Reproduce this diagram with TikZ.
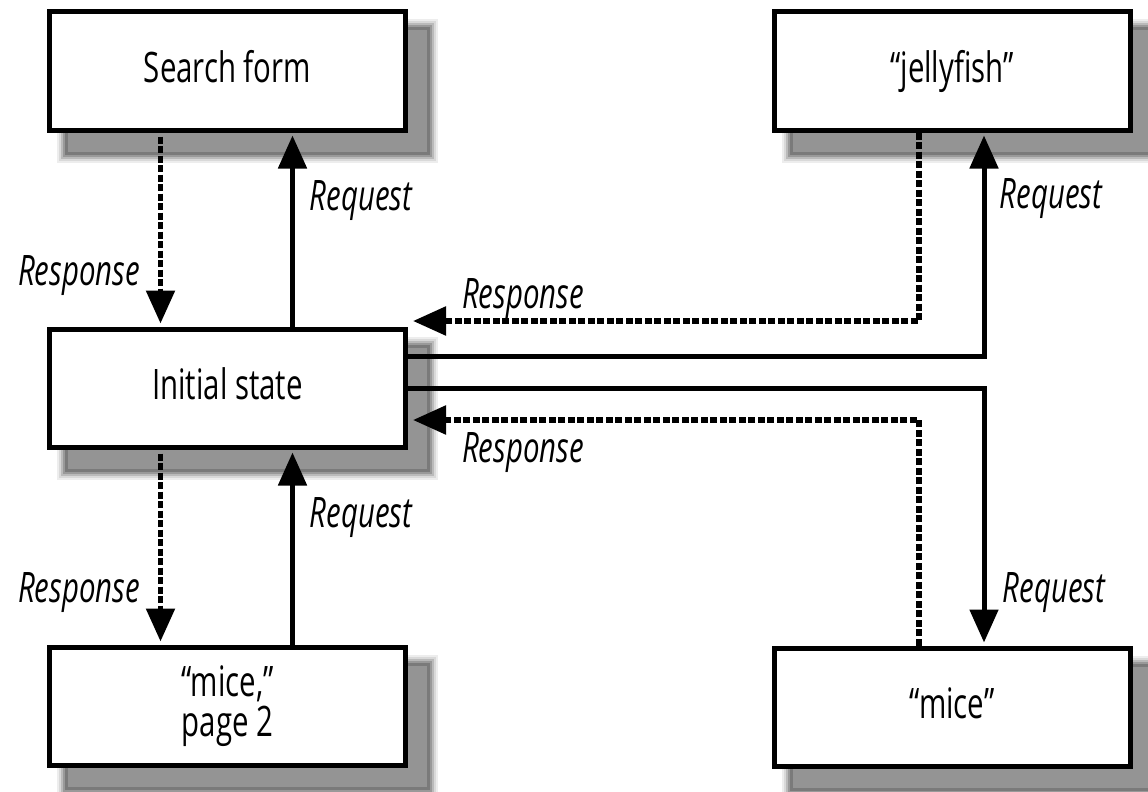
\documentclass[tikz,border=0pt]{standalone}
\usepackage{fontspec}
\setmainfont{Open Sans}[FakeStretch=0.7]
\usetikzlibrary{arrows.meta,backgrounds}
\newcommand{\dropshadow}[1]{%
  \foreach \e/\c in {10/7,8/15,6/27,4/40,2/52,-1/42}{%
    \fill[black!\c] ([shift={(20-\e,20-\e)}]#1.north west) rectangle ([shift={(20+\e,20+\e)}]#1.south east);
  }%
}
\begin{document}
\begin{tikzpicture}[x=1pt,y=-1pt,
  stbox/.style={draw=black, line width=5pt, fill=white, minimum width=356pt, minimum height=118pt,
    inner sep=0pt, align=center, font=\fontsize{42}{40}\selectfont},
  onel/.style={text height=30pt, text depth=8pt},
  lbl/.style={font=\itshape\fontsize{42}{42}\selectfont, inner sep=0pt, anchor=base},
  tip/.style={-{Triangle[length=33pt,width=28pt]}},
  req/.style={tip, line width=5pt, shorten >=3pt},
  resp/.style={tip, line width=5.5pt, dash pattern=on 7pt off 2.5pt, shorten >=3pt}]
\useasboundingbox (0,0) rectangle (1148,792);

\node[stbox,onel] (sf)  at (227.5,71)  {Search form};
\node[stbox,onel] (ini) at (227.5,388) {Initial state};
\node[stbox]      (p2)  at (227.5,706) {“mice,”\\page 2};
\node[stbox,onel] (jf)  at (952,71)    {“jellyfish”};
\node[stbox,onel] (mc)  at (952,707)   {“mice”};

\begin{scope}[on background layer]
  \fill[white] (0,0) rectangle (1148,792);
  \dropshadow{sf}
  \dropshadow{ini}
  \dropshadow{p2}
  \dropshadow{jf}
  \dropshadow{mc}
\end{scope}

% left column
\draw[resp] ([xshift=-67pt,yshift=-4pt]sf.south) -- ([xshift=-67pt]ini.north);
\draw[req]  ([xshift=65pt]ini.north) -- ([xshift=65pt]sf.south);
\draw[resp] ([xshift=-67pt,yshift=-4pt]ini.south) -- ([xshift=-67pt]p2.north);
\draw[req]  ([xshift=65pt]p2.north) -- ([xshift=65pt]ini.south);

% right side
\draw[req]  ([yshift=32pt]ini.east) -| ([xshift=32pt]jf.south);
\draw[resp,shorten >=0pt] ([xshift=-33pt]jf.south) |- ([xshift=5pt,yshift=67pt]ini.east);
\draw[req]  (ini.east) -| ([xshift=32pt]mc.north);
\draw[resp,shorten >=0pt] ([xshift=-33pt]mc.north) |- ([xshift=5pt,yshift=-32pt]ini.east);

% labels
\node[lbl] (l1) at (79,285)   {Response};
\node[lbl] (l2) at (361,210)  {Request};
\node[lbl] (l3) at (523,308)  {Response};
\node[lbl] (l4) at (1051,208) {Request};
\node[lbl] (l5) at (523,462)  {Response};
\node[lbl] (l6) at (1054,602) {Request};
\node[lbl] (l7) at (361,527)  {Request};
\node[lbl] (l8) at (79,602)   {Response};
\end{tikzpicture}
\end{document}
